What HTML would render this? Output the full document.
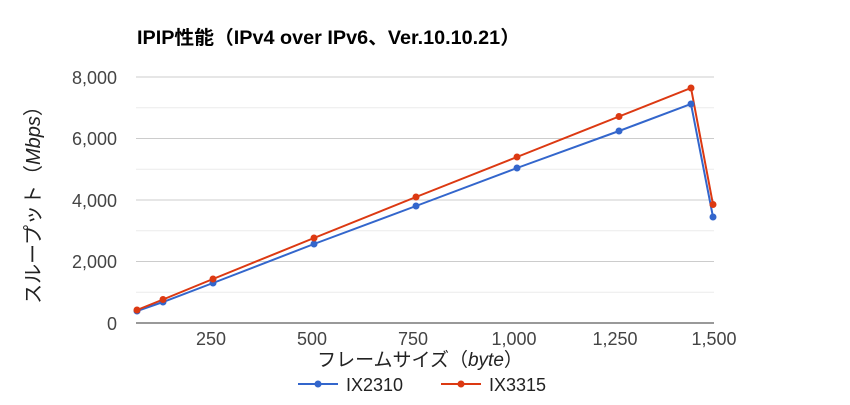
<!DOCTYPE html>
<html><head><meta charset="utf-8"><style>
body{margin:0;background:#fff;}
svg text{font-family:"Liberation Sans","Noto Sans CJK JP",sans-serif;}
</style></head><body>
<svg width="850" height="400" xmlns="http://www.w3.org/2000/svg">
<rect width="850" height="400" fill="#fff"/>
<text x="137" y="44" font-size="19" font-weight="bold" fill="#000" textLength="383" lengthAdjust="spacingAndGlyphs">IPIP性能（IPv4 over IPv6、Ver.10.10.21）</text>
<g stroke="#ebebeb" stroke-width="1">
<line x1="136" x2="714" y1="107.75" y2="107.75"/>
<line x1="136" x2="714" y1="169.25" y2="169.25"/>
<line x1="136" x2="714" y1="230.75" y2="230.75"/>
<line x1="136" x2="714" y1="292.25" y2="292.25"/>
</g>
<g stroke="#cccccc" stroke-width="1">
<line x1="136" x2="714" y1="77" y2="77"/>
<line x1="136" x2="714" y1="138.5" y2="138.5"/>
<line x1="136" x2="714" y1="200" y2="200"/>
<line x1="136" x2="714" y1="261.5" y2="261.5"/>
</g>
<line x1="136" x2="714" y1="323" y2="323" stroke="#333" stroke-width="1"/>
<g font-size="18" fill="#444" text-anchor="end">
<text x="117" y="84">8,000</text>
<text x="117" y="145">6,000</text>
<text x="117" y="207">4,000</text>
<text x="117" y="268">2,000</text>
<text x="117" y="330">0</text>
</g>
<g font-size="18" fill="#444" text-anchor="middle">
<text x="211" y="345">250</text>
<text x="312" y="345">500</text>
<text x="413" y="345">750</text>
<text x="514" y="345">1,000</text>
<text x="615" y="345">1,250</text>
<text x="714" y="345">1,500</text>
</g>
<text x="420" y="366" font-size="19" fill="#222" text-anchor="middle">フレームサイズ（<tspan font-style="italic">byte</tspan>）</text>
<text transform="translate(40,200) rotate(-90)" font-size="20" fill="#222" text-anchor="middle">スループット（<tspan font-style="italic">Mbps</tspan>）</text>
<polyline fill="none" stroke="#3366cc" stroke-width="2" points="137,311 163,302 213,283 314,244 416,206 517,168 619,131 691,104 713,217"/>
<polyline fill="none" stroke="#dc3912" stroke-width="2" points="137,310 163,299.5 213,279 314,238 416,197 517,157 619,116.5 691,88 713,204.5"/>
<g fill="#3366cc">
<circle cx="137" cy="311" r="3.5"/><circle cx="163" cy="302" r="3.5"/><circle cx="213" cy="283" r="3.5"/><circle cx="314" cy="244" r="3.5"/><circle cx="416" cy="206" r="3.5"/><circle cx="517" cy="168" r="3.5"/><circle cx="619" cy="131" r="3.5"/><circle cx="691" cy="104" r="3.5"/><circle cx="713" cy="217" r="3.5"/>
</g>
<g fill="#dc3912">
<circle cx="137" cy="310" r="3.5"/><circle cx="163" cy="299.5" r="3.5"/><circle cx="213" cy="279" r="3.5"/><circle cx="314" cy="238" r="3.5"/><circle cx="416" cy="197" r="3.5"/><circle cx="517" cy="157" r="3.5"/><circle cx="619" cy="116.5" r="3.5"/><circle cx="691" cy="88" r="3.5"/><circle cx="713" cy="204.5" r="3.5"/>
</g>
<line x1="298" x2="338" y1="384" y2="384" stroke="#3366cc" stroke-width="2"/>
<circle cx="318" cy="384" r="3.5" fill="#3366cc"/>
<text x="346" y="391" font-size="18" fill="#222">IX2310</text>
<line x1="441" x2="481" y1="384" y2="384" stroke="#dc3912" stroke-width="2"/>
<circle cx="461" cy="384" r="3.5" fill="#dc3912"/>
<text x="489" y="391" font-size="18" fill="#222">IX3315</text>
</svg>
</body></html>
